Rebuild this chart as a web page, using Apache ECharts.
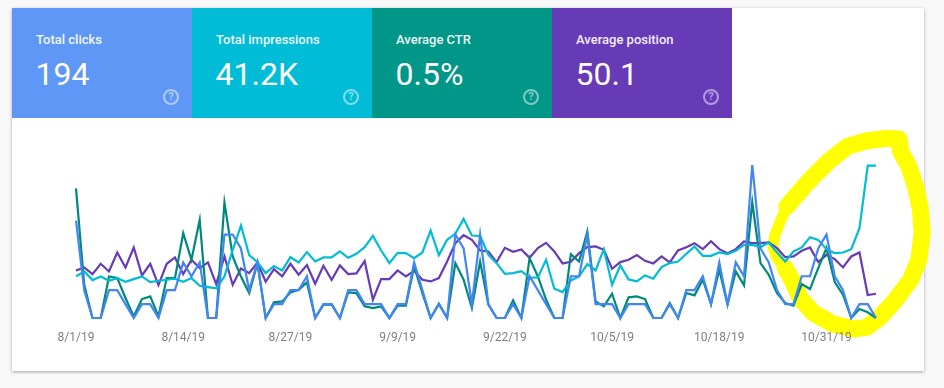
<!DOCTYPE html>
<html>
<head>
<meta charset="utf-8">
<title>Search performance</title>
<script src="https://cdn.jsdelivr.net/npm/echarts@6/dist/echarts.min.js"></script>
<style>
  html, body { margin: 0; width: 944px; height: 388px; overflow: hidden; background: #f8f8f8; font-family: Roboto, sans-serif; }
  .card { position: absolute; left: 12px; top: 8px; width: 912px; height: 363px; background: #fff; box-shadow: 0 1px 3px rgba(0,0,0,.35); }
  .tiles { position: absolute; left: 12px; top: 8px; display: flex; }
  .tile { position: relative; width: 180px; height: 110px; color: #fff; }
  .tile .name { position: absolute; left: 24px; top: 24px; font-size: 13px; line-height: 16px; font-weight: 500; opacity: .92; }
  .tile .val { position: absolute; left: 23.5px; top: 47px; font-size: 32px; line-height: 38px; }
  .tile .help { position: absolute; left: 151px; top: 81px; width: 12px; height: 12px; border: 2px solid rgba(255,255,255,.5); border-radius: 50%; font-size: 11px; line-height: 12px; font-weight: 700; text-align: center; color: rgba(255,255,255,.5); }
  #chart { position: absolute; left: 0; top: 0; width: 944px; height: 388px; }
</style>
</head>
<body>
<div class="card"></div>
<div class="tiles" id="tiles"></div>
<div id="chart"></div>
<script>
  const tileNames = ['Total clicks', 'Total impressions', 'Average CTR', 'Average position']
  const tileValues = ['194', '41.2K', '0.5%', '50.1']
  const tileColors = ['#5e97f6', '#00bcd6', '#009688', '#673ab7']

  const tickLabels = ['8/1/19', '8/14/19', '8/27/19', '9/9/19', '9/22/19', '10/5/19', '10/18/19', '10/31/19']

  // clicks per day, real counts (adds up to 194)
  const clicks = [7, 2, 0, 0, 2, 2, 1, 0, 1, 1, 0, 2, 2, 4, 3, 4, 0, 0, 6, 6, 5, 2, 4, 0, 1, 1, 2, 2, 3, 0,
    1, 1, 0, 2, 2, 1, 1, 1, 0, 1, 1, 4, 2, 0, 1, 0, 6, 5, 1, 6, 1, 0, 0, 1, 0, 3, 2, 1, 0, 0, 3, 3, 6, 1, 1, 1, 0, 1,
    1, 1, 0, 0, 1, 0, 2, 2, 3, 1, 4, 1, 4, 3, 11, 5, 4, 2, 1, 1, 3, 3, 5, 6, 3, 2, 0, 1, 1, 0]
  // the other three have no scale on the picture, so these are relative heights
  const ctr = [390, 100, 0, 0, 125, 120, 60, 5, 57, 65, 5, 120, 120, 255, 175, 295, 0, 0, 347, 185, 125, 75, 165, 0, 47, 50, 77, 85, 107, 0,
    40, 40, 0, 77, 75, 35, 30, 35, 0, 37, 37, 155, 75, 0, 43, 0, 165, 115, 30, 170, 40, 0, 0, 53, 0, 180, 125, 55, 0, 0, 192, 170, 260, 50, 35, 73, 0, 62,
    65, 57, 0, 0, 45, 0, 75, 68, 115, 42, 145, 40, 140, 98, 348, 165, 130, 75, 45, 37, 102, 87, 150, 210, 108, 70, 0, 27, 17, 0]
  const impressions = [125, 140, 114, 125, 112, 120, 109, 117, 125, 108, 112, 115, 118, 109, 120, 97, 93, 89, 125, 205, 278, 189, 168, 135, 156, 143, 183, 167, 198, 170,
    182, 182, 200, 181, 193, 213, 247, 203, 165, 196, 195, 180, 197, 263, 189, 235, 253, 298, 248, 247, 190, 165, 133, 135, 141, 121, 122, 175, 88, 78, 113, 125, 162, 143, 207, 100, 158, 116,
    110, 128, 118, 153, 165, 170, 193, 215, 187, 187, 197, 192, 202, 220, 220, 213, 227, 197, 170, 200, 212, 243, 235, 207, 195, 197, 207, 270, 458, 458]
  const position = [143, 152, 132, 163, 140, 197, 152, 212, 128, 163, 99, 163, 182, 132, 175, 150, 167, 102, 185, 100, 149, 135, 167, 109, 147, 125, 163, 130, 159, 103,
    157, 115, 158, 132, 134, 171, 55, 117, 117, 143, 125, 142, 115, 110, 120, 170, 225, 249, 235, 203, 200, 168, 211, 199, 206, 181, 210, 226, 200, 164, 169, 195, 213, 215, 205, 148, 168, 175,
    189, 172, 164, 185, 167, 203, 213, 225, 207, 231, 207, 195, 207, 230, 225, 225, 227, 210, 183, 185, 202, 212, 168, 190, 177, 152, 185, 197, 69, 73]

  // hand drawn yellow ring, in the same units as the lines; the pen is thinner on the left
  const ringX = [86.2, 87.4, 89, 91.2, 93.5, 95.7, 98.3, 99.8, 100, 101, 101.8, 102.4, 102.6, 102.2, 101.2, 99.3, 97.4, 95.9, 94.3, 91.8, 89.4, 87.8, 86.8, 86]
  const ringY = [335, 370, 415, 470, 515, 532, 540, 538, 500, 455, 395, 325, 256, 175, 115, 52, 0, -28, -33, -18, 15, 60, 115, 150]
  const ringLeftX = [86.2, 85.4, 84.7, 84.5, 85, 86]
  const ringLeftY = [335, 290, 245, 215, 180, 150]

  document.querySelector('#tiles').innerHTML = tileNames.map((name, i) => `
    <div class="tile" style="background:${tileColors[i]}">
      <div class="name">${name}</div>
      <div class="val">${tileValues[i]}</div>
      <div class="help">?</div>
    </div>`).join('')

  const toPoints = arr => arr.map((v, i) => [i, v])

  const lineSeries = (name, data, color, yAxisIndex) => ({
    name,
    type: 'line',
    yAxisIndex,
    data: toPoints(data),
    showSymbol: false,
    clip: false,
    silent: true,
    lineStyle: { color, width: 2.2, join: 'miter' },
  })

  const ringSeries = (xs, ys, width) => ({
    type: 'line',
    data: xs.map((x, i) => [x, ys[i]]),
    showSymbol: false,
    clip: false,
    silent: true,
    lineStyle: { color: '#ffff00', width, cap: 'round', join: 'round' },
  })

  const chart = echarts.init(document.querySelector('#chart'))
  chart.setOption({
    animation: false,
    // axis runs on past the last day so the ring fits inside it
    grid: { left: 76, right: 10.3, top: 165, bottom: 70 },
    xAxis: {
      type: 'value',
      z: 5,
      min: 0,
      max: 104,
      interval: 13,
      axisLine: { show: false },
      axisTick: { show: false },
      splitLine: { show: false },
      axisLabel: {
        margin: 14,
        color: '#808080',
        fontFamily: 'Roboto',
        fontSize: 12,
        formatter: v => tickLabels[v / 13] || '',
      },
    },
    yAxis: [
      { type: 'value', min: 0, max: 460, show: false },
      { type: 'value', min: 0, max: 11, show: false },
    ],
    series: [
      ringSeries(ringX, ringY, 17),
      ringSeries(ringLeftX, ringLeftY, 11),
      lineSeries('Average position', position, '#673ab7', 0),
      lineSeries('Average CTR', ctr, '#00897b', 0),
      lineSeries('Total impressions', impressions, '#00bcd4', 0),
      lineSeries('Total clicks', clicks, '#4285f4', 1),
    ],
  })
</script>
</body>
</html>
